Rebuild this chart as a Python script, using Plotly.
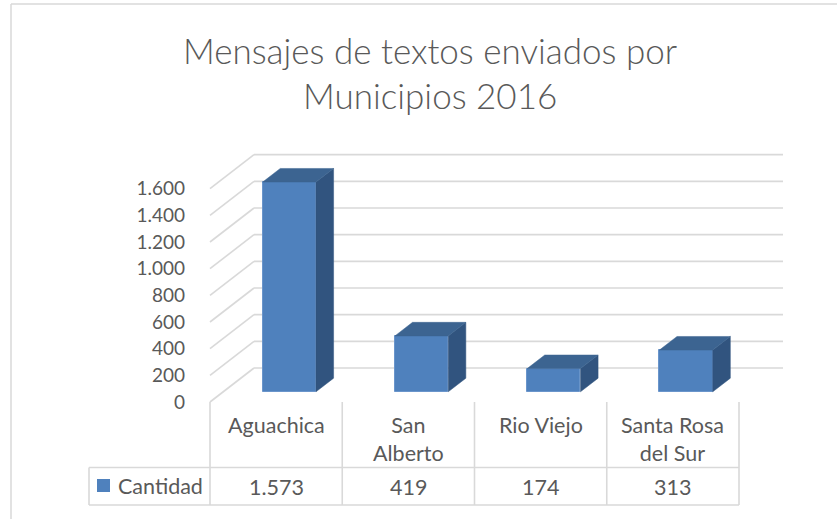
import plotly.graph_objects as go

# ---------------- data ----------------
categories = ["Aguachica", "San Alberto", "Rio Viejo", "Santa Rosa del Sur"]
category_labels = ["Aguachica", "San<br>Alberto", "Rio Viejo", "Santa Rosa<br>del Sur"]
values = [1573, 419, 174, 313]
value_labels = ["1.573", "419", "174", "313"]
series_name = "Cantidad"
y_tickvals = [0, 200, 400, 600, 800, 1000, 1200, 1400, 1600]
y_ticktext = ["0", "200", "400", "600", "800", "1.000", "1.200", "1.400", "1.600"]
title_lines = ["Mensajes de textos enviados por", "Municipios 2016"]

# ---------------- layout geometry (pixels) ----------------
W, H = 837, 519
X_LEFT_PX = 210.0      # left edge of first category (front plane)
CAT_PX = 132.25        # width of one category
Y_ZERO_PX = 402.0      # value 0 on front plane
PX_PER_VAL = 26.667 / 200.0
DEPTH_DX_PX = 44.0
DEPTH_DY_PX = 34.0


def xd(px):
    return -0.5 + (px - X_LEFT_PX) / CAT_PX


def yd(py):
    return (Y_ZERO_PX - py) / PX_PER_VAL


dxu = DEPTH_DX_PX / CAT_PX
dyv = DEPTH_DY_PX / PX_PER_VAL
n = len(categories)
front_d, back_d = 0.3, 0.7
bar_w = 53.3 / CAT_PX

FRONT = "#4F81BD"
TOP = "#3C6491"
SIDE = "#31547F"
GRID = "#D9D9D9"
TXT = "#595959"
FONT = "Lato, Calibri, Arial, sans-serif"
FONT_LIGHT = "Lato Light, Lato, Calibri, Arial, sans-serif"
TFS = 21.5

fig = go.Figure()

shapes = []
# 3D gridlines: side wall diagonal + back wall horizontal (behind bars)
for v in y_tickvals:
    shapes.append(dict(type="line", xref="x", yref="y", layer="below",
                       x0=-0.5, y0=v, x1=-0.5 + dxu, y1=v + dyv,
                       line=dict(color=GRID, width=1.6)))
    shapes.append(dict(type="line", xref="x", yref="y", layer="below",
                       x0=-0.5 + dxu, y0=v + dyv, x1=n - 0.5 + dxu, y1=v + dyv,
                       line=dict(color=GRID, width=1.6)))

# bars: side and top faces
for i, v in enumerate(values):
    cx = i + front_d * dxu
    xl, xr = cx - bar_w / 2, cx + bar_w / 2
    base = front_d * dyv
    top = v + base
    ddx = (back_d - front_d) * dxu
    ddy = (back_d - front_d) * dyv
    fig.add_trace(go.Scatter(
        x=[xr, xr + ddx, xr + ddx, xr, xr],
        y=[base, base + ddy, top + ddy, top, base],
        fill="toself", fillcolor=SIDE, mode="lines",
        line=dict(color=SIDE, width=0.5), hoverinfo="skip", showlegend=False))
    fig.add_trace(go.Scatter(
        x=[xl, xr, xr + ddx, xl + ddx, xl],
        y=[top, top, top + ddy, top + ddy, top],
        fill="toself", fillcolor=TOP, mode="lines",
        line=dict(color=TOP, width=0.5), hoverinfo="skip", showlegend=False))

# bars: front faces
fig.add_trace(go.Bar(
    x=[i + front_d * dxu for i in range(n)], y=values,
    base=[front_d * dyv] * n, width=[bar_w] * n,
    marker=dict(color=FRONT, line=dict(color="#6A95CB", width=1)),
    name=series_name, showlegend=False, hoverinfo="skip"))

# data table lines
for k in range(n + 1):
    shapes.append(dict(type="line", xref="x", yref="y", x0=k - 0.5, x1=k - 0.5,
                       y0=yd(402), y1=yd(505), line=dict(color=GRID, width=1.6)))
shapes.append(dict(type="line", xref="x", yref="y", x0=xd(89), x1=xd(89),
                   y0=yd(467.5), y1=yd(505), line=dict(color=GRID, width=1.6)))
for py in (467.5, 505):
    shapes.append(dict(type="line", xref="x", yref="y", x0=xd(89), x1=n - 0.5,
                       y0=yd(py), y1=yd(py), line=dict(color=GRID, width=1.6)))
# legend key square
shapes.append(dict(type="rect", xref="x", yref="y", x0=xd(97), x1=xd(110),
                   y0=yd(492), y1=yd(479), fillcolor=FRONT, line=dict(width=0)))
# chart border (top and left visible)
shapes.append(dict(type="line", xref="paper", yref="paper", x0=11 / W, x1=1.0,
                   y0=1 - 4 / H, y1=1 - 4 / H, line=dict(color=GRID, width=1.5)))
shapes.append(dict(type="line", xref="paper", yref="paper", x0=11 / W, x1=11 / W,
                   y0=0, y1=1 - 4 / H, line=dict(color=GRID, width=1.5)))

annotations = []
for line_text, py in zip(title_lines, (50, 95)):
    annotations.append(dict(x=0.514, y=1 - py / H, xref="paper", yref="paper",
                            text=line_text, showarrow=False, xanchor="center",
                            yanchor="middle",
                            font=dict(family=FONT_LIGHT, size=35, color=TXT)))
for i, lab in enumerate(category_labels):
    annotations.append(dict(x=i, y=yd(410), xref="x", yref="y", text=lab,
                            showarrow=False, yanchor="top", xanchor="center",
                            font=dict(family=FONT, size=TFS, color=TXT)))
for i, lab in enumerate(value_labels):
    annotations.append(dict(x=i, y=yd(486.5), xref="x", yref="y", text=lab,
                            showarrow=False, yanchor="middle", xanchor="center",
                            font=dict(family=FONT, size=TFS, color=TXT)))
annotations.append(dict(x=xd(116), y=yd(486), xref="x", yref="y", text=series_name,
                        showarrow=False, xanchor="left", yanchor="middle",
                        font=dict(family=FONT, size=TFS, color=TXT)))

fig.update_layout(
    width=W, height=H,
    margin=dict(l=0, r=0, t=0, b=0),
    paper_bgcolor="white", plot_bgcolor="white",
    xaxis=dict(range=[xd(0), xd(W)], visible=False, domain=[0, 1], fixedrange=True),
    yaxis=dict(range=[yd(H), yd(0)], domain=[0, 1], anchor="free", position=185 / W,
               tickvals=y_tickvals, ticktext=y_ticktext, showgrid=False, zeroline=False,
               showline=False, ticks="", fixedrange=True,
               tickfont=dict(family=FONT, size=19, color=TXT)),
    shapes=shapes, annotations=annotations,
    bargap=0,
)

fig.write_html("out.html", config={"displayModeBar": False},
               post_script="document.body.style.margin='0';document.body.style.overflow='hidden';")
